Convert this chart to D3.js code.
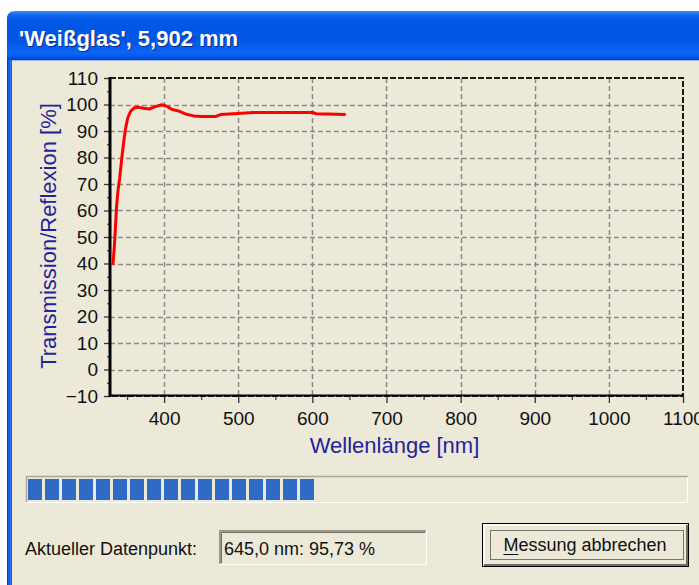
<!DOCTYPE html>
<html><head><meta charset="utf-8">
<script src="https://cdn.jsdelivr.net/npm/d3@7"></script>
<style>html,body{margin:0;padding:0;background:#fff;overflow:hidden}</style>
</head><body><svg id="c" width="699" height="585" xmlns="http://www.w3.org/2000/svg"></svg>
<script>
// ---- data ----
const wavelength   = [331, 333, 334, 336, 338, 340, 343, 346, 348, 351, 355, 360, 365, 372, 380, 388, 397, 404, 410, 420, 430, 440, 450, 470, 476, 500, 520, 600, 605, 645];
const transmission = [39.5, 47, 52, 62, 68, 72, 80, 87, 91, 95, 97.5, 98.8, 99, 98.6, 98.3, 99.2, 99.9, 99.3, 98.2, 97.5, 96.3, 95.7, 95.5, 95.5, 96.2, 96.6, 97, 97, 96.5, 96.2];
const xTicks = [400, 500, 600, 700, 800, 900, 1000, 1100];
const xMinorTicks = [350, 450, 550, 650, 750, 850, 950, 1050];
const yTicks = [-10, 0, 10, 20, 30, 40, 50, 60, 70, 80, 90, 100, 110];
const yMinorTicks = [-5, 5, 15, 25, 35, 45, 55, 65, 75, 85, 95, 105];
const titleText = "'Weißglas', 5,902 mm";
const xTitle = "Wellenlänge [nm]";
const yTitle = "Transmission/Reflexion [%]";
const statusLabel = "Aktueller Datenpunkt:";
const statusValue = "645,0 nm: 95,73 %";
const buttonLabel = "Messung abbrechen";
const progressBlocks = 17;

const FONT = "'Liberation Sans', Arial, sans-serif";
const svg = d3.select("#c");

// ---- window chrome ----
const defs = svg.append("defs");
const g1 = defs.append("linearGradient").attr("id","tb").attr("x1",0).attr("y1",0).attr("x2",0).attr("y2",1);
[[0,"#3d8ef8"],[0.08,"#1466ee"],[0.2,"#0058e6"],[0.6,"#0055e5"],[0.85,"#0a66f5"],[0.94,"#0356ea"],[1,"#003fc0"]]
  .forEach(([o,c])=>g1.append("stop").attr("offset",o).attr("stop-color",c));

svg.append("rect").attr("x",0).attr("y",0).attr("width",699).attr("height",585).attr("fill","#ffffff");
// title bar with rounded top-left corner
svg.append("path").attr("d","M7,60 L7,19 Q7,11 15,11 L699,11 L699,60 Z").attr("fill","url(#tb)");
// body
svg.append("rect").attr("x",12).attr("y",60).attr("width",687).attr("height",525).attr("fill","#ECE9D8");
svg.append("line").attr("x1",12).attr("x2",699).attr("y1",60.5).attr("y2",60.5).attr("stroke","#9cb6e8");
// left border
svg.append("rect").attr("x",7).attr("y",60).attr("width",5).attr("height",525).attr("fill","#0b5ee9");
svg.append("rect").attr("x",7).attr("y",60).attr("width",1).attr("height",525).attr("fill","#0042c8");
svg.append("rect").attr("x",10).attr("y",60).attr("width",1).attr("height",525).attr("fill","#2f7cf4");

// title text with shadow
svg.append("text").attr("x",20).attr("y",47).attr("font-family",FONT).attr("font-weight","bold")
  .attr("font-size",22).attr("fill","#0a2a80").text(titleText);
svg.append("text").attr("x",19).attr("y",46).attr("font-family",FONT).attr("font-weight","bold")
  .attr("font-size",22).attr("fill","#ffffff").text(titleText);

// ---- chart ----
const L = 110, R = 683, T = 78, B = 396;
const x = d3.scaleLinear().domain([327, 1100]).range([L, R]);
const y = d3.scaleLinear().domain([-10, 110]).range([B, T]);

const grid = svg.append("g").attr("stroke","#8a8a8a").attr("stroke-width",1.5).attr("stroke-dasharray","5,3");
grid.selectAll("line.h").data(yTicks.filter(v=>v>-10 && v<110)).join("line").attr("class","h")
  .attr("x1",L).attr("x2",R).attr("y1",d=>Math.round(y(d))+0.5).attr("y2",d=>Math.round(y(d))+0.5);
grid.selectAll("line.v").data(xTicks.filter(v=>v<1100)).join("line").attr("class","v")
  .attr("y1",T).attr("y2",B).attr("x1",d=>Math.round(x(d))+0.5).attr("x2",d=>Math.round(x(d))+0.5);

// frame (dashed top/right/bottom)
svg.append("path").attr("d",`M${L},${T} H${R} V${B} H${L}`).attr("fill","none")
  .attr("stroke","#1a1a1a").attr("stroke-width",2).attr("stroke-dasharray","6,2");

// axes
const xAxis = d3.axisBottom(x).tickValues(xTicks).tickSize(7).tickPadding(9).tickFormat(d3.format("d"));
const gx = svg.append("g").attr("transform",`translate(0,${B})`).call(xAxis);
gx.select(".domain").remove();
gx.selectAll(".tick line").attr("stroke","#333").attr("stroke-width",1.3);
gx.selectAll(".tick text").attr("font-family",FONT).attr("font-size",19).attr("fill","#111");
const xMinor = d3.axisBottom(x).tickValues(xMinorTicks).tickSize(4).tickFormat("");
const gxm = svg.append("g").attr("transform",`translate(0,${B})`).call(xMinor);
gxm.select(".domain").remove();
gxm.selectAll(".tick line").attr("stroke","#444").attr("stroke-width",1.3);

const yAxis = d3.axisLeft(y).tickValues(yTicks).tickSize(6).tickPadding(6).tickFormat(d3.format("d"));
const gy = svg.append("g").attr("transform",`translate(${L},0)`).call(yAxis);
gy.select(".domain").remove();
gy.selectAll(".tick line").attr("stroke","#333").attr("stroke-width",1.3);
gy.selectAll(".tick text").attr("font-family",FONT).attr("font-size",19).attr("fill","#111");
const yMinor = d3.axisLeft(y).tickValues(yMinorTicks).tickSize(3).tickFormat("");
const gym = svg.append("g").attr("transform",`translate(${L},0)`).call(yMinor);
gym.select(".domain").remove();
gym.selectAll(".tick line").attr("stroke","#444").attr("stroke-width",1.3);

// solid axis lines
svg.append("line").attr("x1",L).attr("x2",L).attr("y1",T-1).attr("y2",B+1).attr("stroke","#000").attr("stroke-width",3);
svg.append("line").attr("x1",L).attr("x2",R).attr("y1",B-0.5).attr("y2",B-0.5).attr("stroke","#000").attr("stroke-width",2);

// data line
const data = wavelength.map((w,i)=>({w, t: transmission[i]}));
svg.append("path").datum(data)
  .attr("d", d3.line().x(d=>x(d.w)).y(d=>y(d.t)))
  .attr("fill","none").attr("stroke","#ff0000").attr("stroke-width",3)
  .attr("stroke-linejoin","round").attr("stroke-linecap","butt");

// axis titles
svg.append("text").attr("x",(309+480)/2).attr("y",453).attr("text-anchor","middle")
  .attr("font-family",FONT).attr("font-size",22).attr("fill","#232399").text(xTitle);
svg.append("text").attr("transform","translate(56,236) rotate(-90)").attr("text-anchor","middle")
  .attr("font-family",FONT).attr("font-size",22).attr("fill","#232399").text(yTitle);

// ---- progress bar ----
svg.append("rect").attr("x",26.5).attr("y",476.5).attr("width",661).attr("height",26).attr("fill","#ECE9D8")
  .attr("stroke","#ffffff");
svg.append("path").attr("d","M26.5,502 V476.5 H688").attr("fill","none").attr("stroke","#aca899").attr("stroke-width",1.5);
const blockX = d3.scaleLinear().domain([0,1]).range([28, 45]);
svg.append("g").selectAll("rect").data(d3.range(progressBlocks)).join("rect")
  .attr("x",d=>blockX(d)).attr("y",479).attr("width",14).attr("height",21).attr("fill","#316ac5");

// ---- status line ----
svg.append("text").attr("x",25).attr("y",555).attr("font-family",FONT).attr("font-size",18).attr("fill","#111").text(statusLabel);
svg.append("rect").attr("x",219.5).attr("y",530.5).attr("width",207).attr("height",34).attr("fill","#ECE9D8").attr("stroke","#ffffff");
svg.append("path").attr("d","M220,564 V531 H426").attr("fill","none").attr("stroke","#9d9a8c").attr("stroke-width",2);
svg.append("path").attr("d","M221.5,563 V532.5 H425").attr("fill","none").attr("stroke","#716f64").attr("stroke-width",1);
svg.append("text").attr("x",224).attr("y",555).attr("font-family",FONT).attr("font-size",18).attr("fill","#111").text(statusValue);

// ---- button ----
svg.append("rect").attr("x",482.5).attr("y",523.5).attr("width",206).attr("height",43).attr("fill","#ECE9D8").attr("stroke","#000");
svg.append("path").attr("d","M484,565 V525 H687").attr("fill","none").attr("stroke","#ffffff").attr("stroke-width",1.5);
svg.append("path").attr("d","M484,565 H687 V525").attr("fill","none").attr("stroke","#716f64").attr("stroke-width",2);
svg.append("rect").attr("x",490.5).attr("y",530.5).attr("width",193).attr("height",29).attr("fill","none")
  .attr("stroke","#000").attr("stroke-dasharray","1,1");
const bt = svg.append("text").attr("x",585).attr("y",551).attr("text-anchor","middle")
  .attr("font-family",FONT).attr("font-size",18).attr("fill","#111").text(buttonLabel);
const bb = bt.node().getBBox();
svg.append("line").attr("x1",bb.x).attr("x2",bb.x+15).attr("y1",554.5).attr("y2",554.5).attr("stroke","#111").attr("stroke-width",1);
</script></body></html>
